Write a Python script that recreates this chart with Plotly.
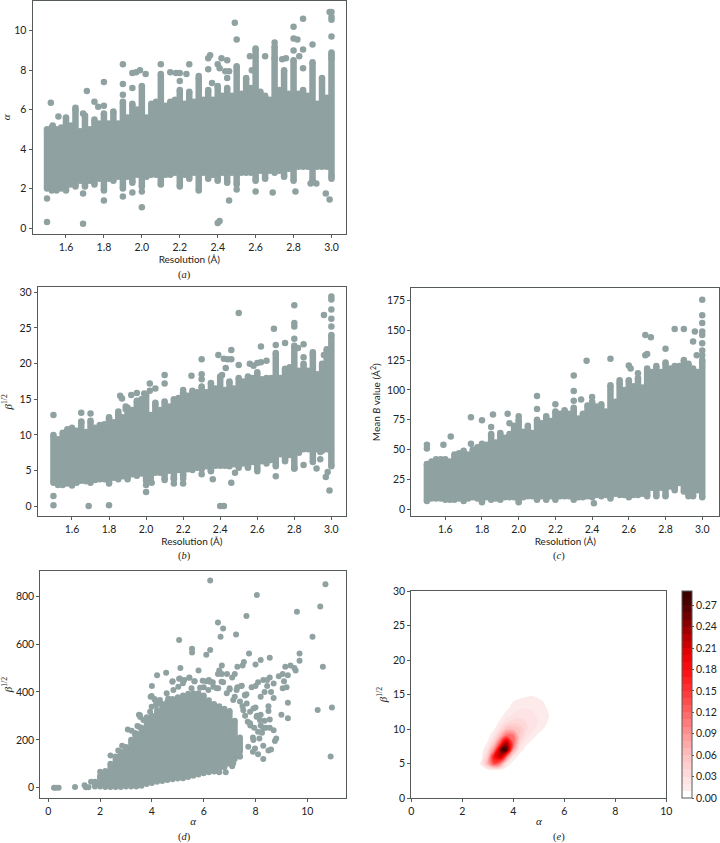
import plotly.graph_objects as go

W, H = 720, 843
GREY = '#8fa1a0'
SPINE = '#555a5a'
SANS = 'Lato'
SERIF = 'Liberation Serif'

# resolution columns shared by panels a, b, c
res = [1.5, 1.525, 1.55, 1.575, 1.6, 1.625, 1.65, 1.675, 1.7, 1.725, 1.75, 1.775, 1.8, 1.825, 1.85, 1.875,
       1.9, 1.925, 1.95, 1.975, 2.0, 2.025, 2.05, 2.075, 2.1, 2.125, 2.15, 2.175, 2.2, 2.225, 2.25, 2.275,
       2.3, 2.325, 2.35, 2.375, 2.4, 2.425, 2.45, 2.475, 2.5, 2.525, 2.55, 2.575, 2.6, 2.625, 2.65, 2.675,
       2.7, 2.725, 2.75, 2.775, 2.8, 2.825, 2.85, 2.875, 2.9, 2.925, 2.95, 2.975, 3.0]

alpha_hi = [5.0, 5.1, 5.0, 5.1, 5.6, 5.2, 6.0, 4.9, 5.7, 5.0, 5.5, 5.3, 5.8, 5.3, 5.9, 5.3,
            6.4, 5.6, 6.3, 6.0, 7.2, 5.6, 6.3, 6.4, 7.8, 6.2, 6.4, 6.5, 7.0, 6.3, 6.9, 6.4,
            7.6, 6.5, 7.0, 6.5, 7.2, 6.7, 7.1, 6.7, 8.2, 6.8, 7.6, 7.1, 9.1, 6.9, 6.7, 6.5,
            9.2, 7.0, 8.0, 6.8, 8.5, 6.8, 7.0, 6.7, 8.4, 6.3, 7.6, 6.6, 8.8]
alpha_lo = [2.0, 1.9, 1.9, 2.0, 1.9, 2.2, 2.1, 2.4, 2.1, 2.4, 2.2, 2.5, 1.9, 2.5, 2.4, 2.6,
            2.0, 2.6, 2.3, 2.7, 2.1, 2.6, 2.7, 2.7, 2.2, 2.7, 2.7, 2.8, 2.1, 2.7, 2.5, 2.8,
            1.9, 2.8, 2.5, 2.7, 2.4, 2.8, 2.3, 2.8, 2.2, 2.8, 2.8, 2.8, 2.4, 2.9, 2.5, 2.9,
            2.8, 2.9, 2.6, 3.0, 2.4, 3.1, 3.1, 3.1, 2.4, 3.1, 3.1, 3.1, 2.6]
alpha_out_x = [1.5, 1.5, 1.52, 1.56, 1.53, 1.65, 1.69, 1.71, 1.69, 1.69, 1.75, 1.77, 1.8, 1.8, 1.8, 1.9, 1.9, 1.9,
               1.9, 1.95, 1.97, 1.99, 2.02, 1.95, 1.95, 2.0, 2.0, 2.1, 2.15, 2.18, 2.2, 2.235, 2.2, 2.25, 2.3,
               2.35, 2.36, 2.35, 2.4, 2.42, 2.41, 2.45, 2.44, 2.46, 2.45, 2.37, 2.46, 2.4, 2.41, 2.49, 2.5, 2.5,
               2.58, 2.6, 2.57, 2.65, 2.69, 2.7, 2.7, 2.74, 2.76, 2.8, 2.8, 2.82, 2.8, 2.85, 2.85, 2.83, 2.9,
               2.85, 2.81, 2.89, 2.9, 2.92, 2.97, 2.99, 2.99, 3.0, 3.0, 3.0, 3.0, 3.0, 3.0, 3.0]
alpha_out_y = [1.5, 0.3, 6.35, 5.65, 5.2, 6.1, 5.8, 6.95, 0.22, 1.75, 6.4, 6.15, 6.2, 7.4, 1.4, 8.3, 7.3, 6.75,
               1.6, 7.85, 7.9, 8.0, 7.8, 7.1, 1.8, 1.05, 1.85, 8.3, 7.9, 7.85, 7.85, 7.8, 7.45, 8.3, 7.7,
               8.6, 8.75, 8.05, 8.3, 8.6, 8.1, 8.5, 7.95, 7.95, 7.6, 7.35, 1.4, 0.25, 0.35, 10.4, 9.55, 1.95,
               8.0, 1.85, 8.7, 8.7, 1.8, 9.4, 8.6, 8.55, 8.6, 10.2, 9.6, 9.55, 9.0, 10.6, 9.05, 8.7, 9.3,
               8.1, 1.85, 2.25, 2.35, 2.25, 1.75, 1.45, 10.95, 10.95, 10.7, 10.55, 9.7, 8.9, 8.6, 2.5]

beta_hi = [10.0, 9.4, 10.3, 10.8, 11.0, 10.6, 11.8, 10.4, 12.0, 11.0, 11.4, 11.5, 12.3, 11.8, 13.0, 12.5,
           13.8, 13.5, 14.8, 15.0, 15.6, 12.8, 14.3, 13.5, 14.7, 14.0, 15.0, 15.2, 16.0, 15.5, 16.2, 16.0,
           16.8, 16.0, 17.3, 16.5, 18.2, 16.3, 17.5, 16.5, 18.0, 17.5, 18.2, 18.0, 18.8, 17.8, 18.0, 18.0,
           21.5, 18.0, 19.3, 19.5, 22.5, 19.0, 20.0, 19.0, 21.3, 18.5, 19.8, 22.0, 24.0]
beta_lo = [3.3, 3.0, 3.0, 3.2, 2.9, 3.3, 3.6, 3.5, 3.3, 3.7, 3.8, 3.8, 3.2, 4.0, 3.8, 4.2,
           3.8, 4.5, 4.3, 4.6, 3.6, 3.9, 4.7, 4.7, 3.7, 5.0, 3.8, 5.1, 4.3, 5.2, 5.1, 5.4,
           5.2, 5.6, 5.0, 5.7, 5.7, 5.7, 5.6, 5.9, 5.4, 6.0, 5.4, 6.2, 5.2, 6.3, 6.0, 6.5,
           5.6, 7.3, 6.5, 7.2, 5.3, 7.5, 8.0, 8.0, 6.2, 8.0, 7.8, 8.0, 5.6]
beta_out_x = [1.5, 1.5, 1.5, 1.65, 1.65, 1.7, 1.69, 1.8, 1.8, 1.86, 1.87, 1.85, 1.89, 1.89, 1.92, 1.95, 1.99, 2.02,
              2.02, 2.05, 2.05, 2.0, 2.0, 2.03, 2.1, 2.1, 2.15, 2.15, 2.2, 2.2, 2.2, 2.245, 2.3, 2.3, 2.3, 2.3,
              2.35, 2.36, 2.39, 2.42, 2.44, 2.46, 2.43, 2.41, 2.46, 2.4, 2.42, 2.46, 2.48, 2.5, 2.5, 2.56, 2.58,
              2.6, 2.62, 2.62, 2.65, 2.6, 2.69, 2.7, 2.7, 2.75, 2.75, 2.8, 2.8, 2.8, 2.8, 2.8, 2.85, 2.82, 2.85,
              2.85, 2.9, 2.92, 2.94, 2.94, 2.95, 2.96, 2.96, 2.97, 2.98, 2.99, 3.0, 3.0, 3.0, 3.0, 3.0]
beta_out_y = [12.8, 1.45, 0.15, 13.1, 11.9, 13.0, 0.05, 12.5, 0.15, 15.5, 15.1, 13.3, 14.0, 13.6, 15.6, 15.9, 15.8, 17.2,
              16.2, 16.5, 14.5, 3.0, 2.0, 3.3, 18.4, 17.2, 3.2, 4.0, 3.2, 3.9, 16.3, 18.3, 20.6, 18.5, 17.8, 4.5,
              4.9, 3.8, 21.2, 20.7, 20.6, 20.6, 19.4, 18.4, 21.9, 0.05, 0.05, 3.3, 4.7, 27.1, 19.8, 20.0, 19.7,
              20.1, 22.4, 20.2, 20.4, 4.9, 24.9, 22.6, 4.2, 22.9, 6.3, 28.2, 25.7, 25.2, 23.5, 5.3, 22.7, 22.2, 5.8,
              20.9, 21.6, 5.3, 7.6, 6.6, 20.0, 26.8, 21.2, 4.1, 4.8, 2.2, 29.4, 29.0, 27.6, 26.3, 25.2]

bval_hi = [38, 40, 42, 42, 42, 40, 46, 47, 49, 46, 50, 52, 55, 54, 63, 56,
           64, 60, 63, 70, 75, 65, 70, 64, 75, 72, 78, 74, 82, 80, 83, 80,
           85, 76, 80, 87, 90, 86, 88, 82, 104, 90, 106, 100, 108, 103, 110, 102,
           118, 115, 120, 115, 123, 118, 120, 120, 125, 122, 118, 115, 125]
bval_lo = [7, 9, 9, 9, 8, 8, 8, 9, 7, 9, 10, 9, 6, 10, 8, 9,
           8, 10, 10, 10, 6, 10, 11, 11, 8, 11, 8, 11, 8, 11, 11, 11,
           8, 10, 10, 11, 10, 12, 11, 12, 9, 13, 12, 12, 10, 12, 12, 13,
           11, 18, 11, 18, 11, 19, 16, 22, 15, 11, 11, 16, 10]
bval_out_x = [1.5, 1.5, 1.59, 1.63, 1.74, 1.74, 1.8, 1.85, 1.86, 1.94, 2.0, 1.95, 2.1, 2.1, 2.2, 2.3, 2.3, 2.3, 2.34,
              2.37, 2.4, 2.41, 2.5, 2.55, 2.6, 2.61, 2.65, 2.69, 2.72, 2.69, 2.7, 2.8, 2.85, 2.9, 2.96, 2.95, 2.97,
              3.0, 3.0, 3.0, 3.0, 3.0, 3.0, 3.0, 3.0]
bval_out_y = [54, 51, 54, 61, 77, 55, 74.5, 69, 79.5, 80, 78, 72, 95, 84, 88, 112, 99, 91, 92,
              124.5, 94, 5, 126, 108, 120.5, 118, 114, 146, 144, 129, 130, 134.5, 151, 151, 149, 140.5, 129,
              175.5, 162.5, 156, 149, 146, 139, 133, 129]

# panel d, dense part by alpha column
d_col = [1.8, 2.0, 2.2, 2.4, 2.6, 2.8, 3.0, 3.2, 3.4, 3.6, 3.8, 4.0, 4.2, 4.4, 4.6, 4.8, 5.0, 5.2, 5.4, 5.6,
         5.8, 6.0, 6.2, 6.4, 6.6, 6.8, 7.0, 7.2, 7.4]
d_hi = [25, 50, 70, 100, 130, 150, 170, 200, 225, 250, 276, 300, 325, 350, 360, 370, 378, 385, 392, 394,
        394, 385, 365, 350, 340, 330, 320, 280, 210]
d_lo = [5, 5, 3, 3, 3, 3, 5, 5, 5, 8, 15, 20, 25, 28, 32, 35, 38, 40, 45, 50,
        55, 60, 65, 68, 75, 85, 100, 120, 150]
d_out_x = [0.22, 0.3, 0.4, 1.03, 1.4, 1.45, 1.55, 1.65, 2.0, 2.4, 2.7, 2.85, 3.07, 3.35, 3.5, 3.55, 3.5,
           4.0, 3.95, 4.1, 4.2, 4.55, 4.2, 4.15, 4.8, 5.05, 5.05, 5.1, 5.25, 5.45, 5.55, 5.55, 5.65, 5.8, 6.0,
           6.1, 6.1, 6.25, 6.25, 6.2, 6.35, 6.55, 6.65, 6.75, 6.5, 6.6, 6.7, 6.55, 6.7, 6.75, 6.9,
           7.25, 7.65, 7.3, 7.5, 7.55, 7.75, 7.1, 7.2, 7.0, 7.3, 7.45, 7.65, 7.85, 8.05, 8.0, 8.2, 8.55, 8.0,
           8.1, 8.3, 8.45, 8.55, 8.7, 8.2, 8.35, 8.6, 8.7, 8.45, 9.6, 10.5, 10.7, 10.2, 9.7, 9.7, 10.6, 9.15,
           9.35, 9.5, 9.55, 8.9, 9.05, 9.25, 9.1, 9.05, 9.2, 9.25, 9.0, 9.25, 10.4, 10.95, 10.9,
           8.3, 8.5, 8.6, 8.3, 7.9, 8.1, 7.9, 8.15, 8.25, 8.55, 8.7, 8.8, 8.75, 8.55, 8.5, 8.5, 8.2, 8.0, 8.35,
           7.8, 7.7, 7.6, 7.5, 7.4, 7.6, 7.2, 7.2, 7.4, 7.1, 6.85, 6.45, 6.6, 8.4, 8.05, 8.2, 7.95,
           4.83, 5.02, 5.2, 5.53, 5.86, 6.18, 6.37, 6.56, 6.89, 7.27, 7.59, 7.14, 7.66, 7.92, 8.17, 8.3, 8.04,
           7.79, 7.53, 7.79, 8.1, 7.92, 7.72, 7.98, 4.57, 4.63, 4.25, 3.93, 3.67, 3.35, 7.14, 7.4, 3.99, 4.12,
           4.31, 3.99, 3.54, 3.8, 3.44, 3.22, 4.79, 5.08, 5.44, 5.64, 5.96, 6.24, 6.69, 7.0, 7.47]
d_out_y = [0, 0, 0, 3, 10, 2, 2, 25, 67, 135, 155, 175, 243, 228, 305, 295, 255,
           425, 380, 370, 470, 480, 360, 345, 445, 617, 455, 500, 450, 460, 580, 565, 445, 490, 420,
           445, 555, 575, 865, 450, 440, 690, 630, 665, 415, 490, 510, 475, 475, 440, 475,
           640, 717, 505, 510, 525, 560, 460, 475, 415, 420, 425, 390, 420, 805, 515, 533, 543, 425,
           440, 450, 450, 460, 435, 380, 400, 400, 375, 425, 735, 757, 850, 630, 560, 530, 505, 505,
           510, 500, 490, 465, 475, 470, 445, 415, 420, 355, 305, 290, 325, 335, 130,
           120, 155, 160, 175, 150, 140, 210, 205, 230, 250, 240, 205, 195, 285, 320, 340, 305, 335, 280,
           260, 275, 300, 340, 360, 385, 380, 150, 130, 90, 65, 70, 65, 250, 300, 260, 250,
           408, 422, 436, 415, 417, 408, 422, 415, 394, 408, 387, 366, 352, 331, 283, 248, 296,
           317, 324, 269, 234, 199, 171, 164, 394, 373, 352, 317, 283, 220, 102, 130, 383, 366,
           366, 338, 303, 294, 258, 238, 443, 456, 459, 445, 447, 443, 443, 410, 426]

# panel e, density
kde_alpha = [2.25, 2.5, 2.75, 3.0, 3.25, 3.5, 3.625, 3.75, 4.0, 4.25, 4.5, 4.75, 5.0, 5.25, 5.5, 5.75]
kde_beta = [3, 4, 5, 6, 7, 8, 9, 10, 11, 12, 13, 14, 15, 16]
kde_z = [
    [0, 0, 0, 0, 0, 0, 0, 0, 0, 0, 0, 0, 0, 0, 0, 0],
    [0, 0, 0, 0, 0, 0, 0, 0, 0, 0, 0, 0, 0, 0, 0, 0],
    [0, 0, 0.014, 0.07, 0.14, 0.1, 0.05, 0.02, 0.004, 0, 0, 0, 0, 0, 0, 0],
    [0, 0, 0.005, 0.05, 0.18, 0.22, 0.18, 0.1, 0.02, 0.004, 0, 0, 0, 0, 0, 0],
    [0, 0, 0.002, 0.03, 0.1, 0.25, 0.29, 0.27, 0.08, 0.018, 0.004, 0, 0, 0, 0, 0],
    [0, 0, 0, 0.012, 0.05, 0.14, 0.21, 0.23, 0.12, 0.035, 0.014, 0.005, 0, 0, 0, 0],
    [0, 0, 0, 0.004, 0.022, 0.07, 0.1, 0.12, 0.11, 0.05, 0.024, 0.015, 0.006, 0, 0, 0],
    [0, 0, 0, 0, 0.009, 0.032, 0.045, 0.06, 0.06, 0.05, 0.032, 0.022, 0.015, 0.008, 0, 0],
    [0, 0, 0, 0, 0.002, 0.014, 0.022, 0.03, 0.035, 0.035, 0.03, 0.024, 0.019, 0.013, 0.004, 0],
    [0, 0, 0, 0, 0, 0.006, 0.011, 0.016, 0.022, 0.026, 0.025, 0.022, 0.018, 0.014, 0.007, 0],
    [0, 0, 0, 0, 0, 0, 0.004, 0.008, 0.014, 0.019, 0.02, 0.019, 0.016, 0.012, 0.004, 0],
    [0, 0, 0, 0, 0, 0, 0, 0.002, 0.01, 0.014, 0.016, 0.016, 0.014, 0.008, 0, 0],
    [0, 0, 0, 0, 0, 0, 0, 0, 0, 0.004, 0.007, 0.0085, 0.004, 0, 0, 0],
    [0, 0, 0, 0, 0, 0, 0, 0, 0, 0, 0, 0, 0, 0, 0, 0],
]
cbar_ticks = [0.0, 0.03, 0.06, 0.09, 0.12, 0.15, 0.18, 0.21, 0.24, 0.27]
cbar_labels = ['0.00', '0.03', '0.06', '0.09', '0.12', '0.15', '0.18', '0.21', '0.24', '0.27']
red_scale = [[0, '#ffffff'], [0.03, '#ffffff'], [0.05, '#fdecec'], [0.1, '#fde0e0'], [0.2, '#ffc4c4'], [0.31, '#ff9a9a'],
             [0.41, '#ff6c6c'], [0.52, '#ff3c3c'], [0.62, '#ff1414'], [0.72, '#ea0000'], [0.83, '#a80000'],
             [0.93, '#640000'], [1, '#3c0000']]


def dom(left, right, top, bottom):
    return [left / W, right / W], [1 - bottom / H, 1 - top / H]


def axis(domain, rng, anchor, tickvals=None, ticktext=None, title=None, font=SANS, standoff=4, size=10):
    ax = dict(domain=domain, range=rng, anchor=anchor, showgrid=False, zeroline=False, showline=True, mirror=True,
              linecolor=SPINE, linewidth=1, ticks='outside', ticklen=3, tickwidth=1, tickcolor=SPINE,
              tickfont=dict(family=SANS, size=10.5, color='#222222'), fixedrange=True,
              title=dict(text=title, font=dict(family=font, size=size, color='#222222'), standoff=standoff))
    if tickvals is not None:
        ax.update(tickmode='array', tickvals=tickvals, ticktext=ticktext)
    return ax


def add_dense(fig, xcol, lo, hi, out_x, out_y, xa, ya, size=6.5):
    span = [h - l for h, l in zip(hi, lo)]
    fig.add_trace(go.Scatter(x=xcol, y=lo, mode='markers', xaxis=xa, yaxis=ya, showlegend=False,
                             marker=dict(color=GREY, size=size),
                             error_y=dict(type='data', symmetric=False, array=span,
                                          arrayminus=[0] * len(span), thickness=size, width=0, color=GREY)))
    fig.add_trace(go.Scatter(x=list(xcol) + list(out_x), y=list(hi) + list(out_y), mode='markers', xaxis=xa, yaxis=ya,
                             showlegend=False, marker=dict(color=GREY, size=size)))


fig = go.Figure()
add_dense(fig, res, alpha_lo, alpha_hi, alpha_out_x, alpha_out_y, 'x', 'y')
add_dense(fig, res, beta_lo, beta_hi, beta_out_x, beta_out_y, 'x2', 'y2')
add_dense(fig, res, bval_lo, bval_hi, bval_out_x, bval_out_y, 'x3', 'y3')
add_dense(fig, d_col, d_lo, d_hi, d_out_x, d_out_y, 'x4', 'y4', size=6)

fig.add_trace(go.Contour(x=kde_alpha, y=kde_beta, z=kde_z, xaxis='x5', yaxis='y5', colorscale=red_scale,
                         zmin=0, zmax=0.29, autocontour=False,
                         contours=dict(start=0, end=0.29, size=0.01, coloring='fill', showlines=False),
                         line=dict(width=0, smoothing=1.3),
                         colorbar=dict(x=682.3 / W, xanchor='left', xpad=0, ypad=0, thickness=10.4, thicknessmode='pixels',
                                       len=206.7 / H, lenmode='fraction', y=1 - 798 / H, yanchor='bottom',
                                       outlinecolor=SPINE, outlinewidth=1, tickvals=cbar_ticks, ticktext=cbar_labels,
                                       ticks='outside', ticklen=2, tickcolor=SPINE,
                                       tickfont=dict(family=SANS, size=10.5, color='#222222'))))

res_ticks = [1.6, 1.8, 2.0, 2.2, 2.4, 2.6, 2.8, 3.0]
res_text = ['1.6', '1.8', '2.0', '2.2', '2.4', '2.6', '2.8', '3.0']
beta_title = '<i>\u03b2</i><sup>1/2</sup>'
alpha_title = '<i>\u03b1</i>'
res_title = 'Resolution (\u00c5)'

xa, ya = dom(32.5, 346, 0.5, 234)
fig.update_layout(xaxis=axis(xa, [1.4234, 3.0765], 'y', res_ticks, res_text, res_title),
                  yaxis=axis(ya, [-0.303, 11.53], 'x', [0, 2, 4, 6, 8, 10], None, alpha_title, SERIF, 4, 11))
xa, ya = dom(37.7, 346, 287.3, 516.3)
fig.update_layout(xaxis2=axis(xa, [1.415, 3.079], 'y2', res_ticks, res_text, res_title),
                  yaxis2=axis(ya, [-1.4, 30.7], 'x2', [0, 5, 10, 15, 20, 25, 30], None, beta_title, SERIF, 6, 11))
xa, ya = dom(411.3, 719.3, 288.3, 516.3)
fig.update_layout(xaxis3=axis(xa, [1.415, 3.093], 'y3', res_ticks, res_text, res_title),
                  yaxis3=axis(ya, [-5.86, 185.1], 'x3', [0, 25, 50, 75, 100, 125, 150, 175], None,
                              'Mean <i>B</i> value (\u00c5<sup>2</sup>)', SANS, 4, 10))
xa, ya = dom(40.3, 346, 571.3, 798)
fig.update_layout(xaxis4=axis(xa, [-0.309, 11.494], 'y4', [0, 2, 4, 6, 8, 10], None, alpha_title, SERIF, 1, 11),
                  yaxis4=axis(ya, [-43, 903.8], 'x4', [0, 200, 400, 600, 800], None, beta_title, SERIF, 13, 11))
xa, ya = dom(411.3, 666.3, 591.3, 798)
fig.update_layout(xaxis5=axis(xa, [0, 10], 'y5', [0, 2, 4, 6, 8, 10], None, alpha_title, SERIF, 1, 11),
                  yaxis5=axis(ya, [0, 30], 'x5', [0, 5, 10, 15, 20, 25, 30], None, beta_title, SERIF, 3, 11))

panel_tags = ['(<i>a</i>)', '(<i>b</i>)', '(<i>c</i>)', '(<i>d</i>)', '(<i>e</i>)']
tag_x = [185, 185, 559, 185, 559]
tag_y = [275, 556, 556, 837, 837]
for tag, tx, ty in zip(panel_tags, tag_x, tag_y):
    fig.add_annotation(text=tag, x=tx / W, y=1 - ty / H, xref='paper', yref='paper', showarrow=False,
                       xanchor='center', yanchor='middle', font=dict(family=SERIF, size=10.5, color='#222222'))

fig.update_layout(width=W, height=H, margin=dict(l=0, r=0, t=0, b=0, autoexpand=False), paper_bgcolor='white',
                  plot_bgcolor='white', showlegend=False)

fig.write_html("out.html", config=dict(displayModeBar=False),
               post_script="document.body.style.margin='0';document.body.style.overflow='hidden';")
